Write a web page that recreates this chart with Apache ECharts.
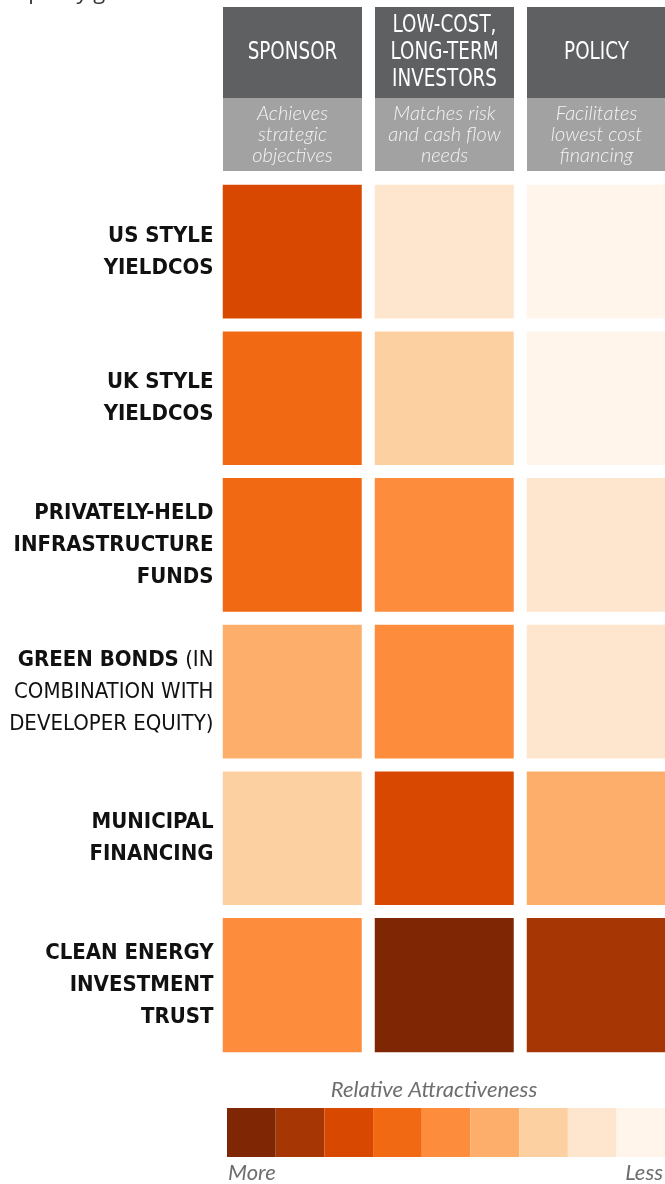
<!DOCTYPE html>
<html>
<head>
    <meta charset="UTF-8">
    <title>Relative Attractiveness</title>
    <script src="https://cdn.jsdelivr.net/npm/echarts@6/dist/echarts.min.js"></script>
    <style type="text/css">
        html, body { margin: 0; padding: 0; background: #fff; }
        #main { width: 665px; height: 1184px; }
    </style>
</head>
<body>
<div id="main"></div>
<script>
// rows (financing vehicles), top to bottom
var rows = ['US STYLE\nYIELDCOS', 'UK STYLE\nYIELDCOS', 'PRIVATELY-HELD\nINFRASTRUCTURE\nFUNDS',
    'GREEN BONDS (IN\nCOMBINATION WITH\nDEVELOPER EQUITY)', 'MUNICIPAL\nFINANCING', 'CLEAN ENERGY\nINVESTMENT\nTRUST'];
var cols = ['SPONSOR', 'LOW-COST,\nLONG-TERM\nINVESTORS', 'POLICY'];
var colNotes = ['Achieves\nstrategic\nobjectives', 'Matches risk\nand cash flow\nneeds', 'Facilitates\nlowest cost\nfinancing'];
// 1 = more attractive ... 9 = less attractive
var sponsor = [3, 4, 4, 6, 7, 5];
var lowCost = [8, 7, 5, 5, 3, 1];
var policy  = [9, 9, 8, 8, 6, 2];
var levels = [1, 2, 3, 4, 5, 6, 7, 8, 9];
var palette = ['#7f2704', '#a63603', '#d94801', '#f16913', '#fd8d3c', '#fdae6b', '#fdd0a2', '#fee6ce', '#fff5eb'];

var narrow = "'DejaVu Sans Condensed', sans-serif";
var gridLeft = 216.5, gridTop = 178.5, gridW = 456, gridH = 880, gap = 13;
var band = gridW / cols.length;

var data = [];
[sponsor, lowCost, policy].forEach(function (col, c) {
    col.forEach(function (v, r) { data.push([c, r, v]); });
});

function rowLabel(name) {
    return name.split('\n').map(function (line, i) {
        if (name.indexOf('GREEN BONDS') === 0) {
            return i === 0 ? '{b|GREEN BONDS}{n| (IN}' : '{n|' + line + '}';
        }
        return '{b|' + line + '}';
    }).join('\n');
}

// header boxes over each column
var graphics = [];
cols.forEach(function (name, i) {
    var x = gridLeft + i * band + gap / 2, w = band - gap;
    graphics.push({ type: 'rect', shape: { x: x, y: 7, width: w, height: 91 }, style: { fill: '#5f6062' } });
    graphics.push({ type: 'rect', shape: { x: x, y: 98, width: w, height: 73 }, style: { fill: '#a2a2a2' } });
    graphics.push({ type: 'text', x: x + w / 2, y: 53, scaleX: 0.85, style: {
        text: name, fill: '#fff', font: '24px ' + narrow, lineHeight: 27,
        align: 'center', verticalAlign: 'middle' } });
    graphics.push({ type: 'text', x: x + w / 2, y: 135, style: {
        text: colNotes[i], fill: '#f4f4f4', font: 'italic 300 20px Lato, sans-serif', lineHeight: 21,
        align: 'center', verticalAlign: 'middle' } });
});
graphics.push({ type: 'text', x: 12, y: 4, style: { text: 's policy g', fill: '#333',
    font: '22px "Open Sans", sans-serif', verticalAlign: 'bottom' } });
graphics.push({ type: 'text', x: 434, y: 1090, style: { text: 'Relative Attractiveness', fill: '#6e6e6e',
    font: 'italic 22px Lato, sans-serif', align: 'center', verticalAlign: 'middle' } });
graphics.push({ type: 'text', x: 228, y: 1173, style: { text: 'More', fill: '#6e6e6e',
    font: 'italic 22px Lato, sans-serif', align: 'left', verticalAlign: 'middle' } });
graphics.push({ type: 'text', x: 663, y: 1173, style: { text: 'Less', fill: '#6e6e6e',
    font: 'italic 22px Lato, sans-serif', align: 'right', verticalAlign: 'middle' } });

var myChart = echarts.init(document.getElementById('main'));
myChart.setOption({
    animation: false,
    grid: { left: gridLeft, top: gridTop, width: gridW, height: gridH, containLabel: false, outerBoundsMode: 'none' },
    xAxis: { type: 'category', data: cols, show: false },
    yAxis: {
        type: 'category', data: rows, inverse: true, z: 5,
        axisLine: { show: false }, axisTick: { show: false }, splitLine: { show: false },
        axisLabel: {
            margin: 3, align: 'right', overflow: 'none', formatter: rowLabel,
            rich: {
                b: { fontFamily: narrow, fontWeight: 'bold', fontSize: 22, lineHeight: 32, color: '#111' },
                n: { fontFamily: narrow, fontWeight: 'normal', fontSize: 22, lineHeight: 32, color: '#111' }
            }
        }
    },
    visualMap: {
        type: 'piecewise', orient: 'horizontal', left: 227, top: 1108,
        itemWidth: 48.7, itemHeight: 49, itemGap: 0, itemSymbol: 'rect',
        showLabel: false, selectedMode: false, seriesIndex: 0, padding: 0,
        pieces: levels.map(function (v, i) { return { value: v, color: palette[i] }; })
    },
    graphic: graphics,
    series: [{
        type: 'heatmap',
        data: data,
        itemStyle: { borderColor: '#fff', borderWidth: gap },
        emphasis: { disabled: true }
    }]
});
</script>
</body>
</html>
